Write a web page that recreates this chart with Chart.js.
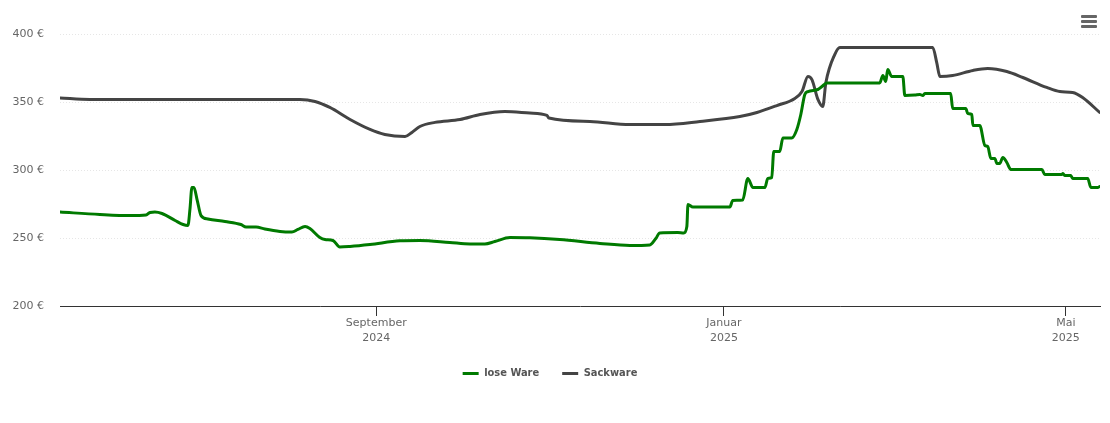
<!DOCTYPE html>
<html>
<head>
<meta charset="utf-8">
<script src="https://cdn.jsdelivr.net/npm/chart.js@4"></script>
<style>
    body { margin: 0; background: #fff; }
    #wrap { position: relative; width: 1110px; height: 423px; }
    #menu { position: absolute; left: 1081px; top: 15px; width: 16px; }
    #menu div { height: 3px; background: #666; margin-bottom: 2px; border-radius: 1px; }
</style>
</head>
<body>
<div id="wrap">
    <canvas id="chart" width="1110" height="423"></canvas>
    <div id="menu"><div></div><div></div><div></div></div>
</div>
<script>
// x values are days since 13 May 2024
var loseDays = [0, 14, 24.6, 30.2, 31.6, 33.3, 35.8, 40.4, 43.2, 44.9, 45.6, 46.3, 47, 48.1, 49.5, 51.9, 57.9, 63.5, 65.3, 68.8, 71.9, 77.2, 81.4, 83.5, 86, 87.7, 91.2, 93, 95.8, 98.2, 101.8, 108.8, 119.3, 126.3, 136.8, 143.9, 149.1, 152.6, 157.9, 164.9, 175.4, 189.5, 200, 207, 209.1, 210.5, 216.8, 218.9, 220, 220.4, 222.1, 235.1, 236.1, 239.6, 241.4, 243.2, 247.4, 248.4, 249.8, 250.5, 252.6, 253.7, 256.8, 258.6, 260, 261.4, 262.5, 266, 267.4, 269.1, 287.7, 288.8, 289.8, 290.5, 291.9, 295.8, 296.5, 300, 301.8, 302.8, 303.5, 312.6, 313.3, 317.9, 318.6, 320, 320.4, 322.8, 324.6, 325.6, 326.7, 328.1, 328.8, 329.8, 330.9, 332.3, 333.7, 344.6, 345.6, 351.6, 352, 352.6, 354.7, 355.4, 360.7, 361.8, 364.2, 364.9];
var loseWare = [269.1, 267.3, 266.5, 266.9, 268.8, 269.1, 268, 262.9, 259.9, 259.2, 271, 287.1, 287.1, 278.3, 266.5, 264, 262.1, 259.9, 258.1, 258.1, 256.6, 254.8, 254.4, 256.3, 258.5, 257, 250.4, 248.9, 248.2, 243.4, 243.8, 245.2, 247.9, 248.2, 246.7, 245.6, 245.6, 247.4, 250.4, 250.2, 248.9, 246, 244.5, 244.9, 249.6, 253.7, 254, 253.7, 258.5, 274.6, 272.8, 272.8, 277.6, 277.9, 293.8, 287.1, 287.1, 293.8, 294.5, 313.6, 313.6, 323.5, 323.5, 329.8, 340.8, 355.5, 357.7, 359.2, 361.4, 364, 364, 369.5, 365.1, 373.9, 368.8, 368.8, 354.8, 355.1, 355.5, 354.8, 356.2, 356.2, 345.2, 345.2, 341.5, 340.8, 332.7, 332.7, 318, 317.3, 308.5, 308.5, 304.8, 304.8, 309.2, 305.5, 300.4, 300.4, 296.7, 296.7, 297.4, 296, 296, 293.8, 293.8, 287.1, 287.1, 287.9];

var sackDays = [0, 10.5, 84.2, 89.5, 94.7, 101.8, 108.8, 114, 121.1, 123.5, 126.3, 131.6, 140.4, 147.4, 156.1, 164.9, 170.9, 171.6, 186, 200, 212.3, 224.6, 238.6, 244.6, 251.6, 257.9, 260.4, 262.5, 263.9, 266, 267.7, 268.8, 271.9, 273.7, 306.3, 307.7, 308.8, 313.3, 320.4, 325.6, 332.3, 337.9, 346.3, 350.9, 355.4, 358.9, 364.9];
var sackware = [353, 351.9, 351.9, 350.4, 346, 337.1, 329.8, 326.1, 324.6, 327.6, 332, 335, 337.1, 340.8, 343, 341.9, 340.1, 338.2, 335.7, 333.5, 333.5, 335.7, 339.3, 342.3, 347.4, 352.6, 357.7, 368.8, 366.5, 351.9, 346.7, 364.3, 384.9, 390.1, 390.1, 379, 368.8, 369.5, 373.2, 374.6, 372.4, 368, 360.7, 357.7, 357, 353.3, 342.3];

var tickDays = [111, 233, 353];
var tickMonths = ["September", "Januar", "Mai"];
var tickYears = ["2024", "2025", "2025"];

function toPoints(days, values) {
    return days.map(function (d, i) {
        return { x: d, y: values[i] };
    });
}

var ctx = document.getElementById("chart");

var data = {
    datasets: [
        {
            label: "lose Ware",
            data: toPoints(loseDays, loseWare),
            borderColor: "#007a00",
            backgroundColor: "#007a00",
            borderWidth: 3,
            borderCapStyle: "round",
            borderJoinStyle: "round",
            pointRadius: 0,
            fill: false,
            cubicInterpolationMode: "monotone"
        },
        {
            label: "Sackware",
            data: toPoints(sackDays, sackware),
            borderColor: "#444444",
            backgroundColor: "#444444",
            borderWidth: 3,
            borderCapStyle: "round",
            borderJoinStyle: "round",
            pointRadius: 0,
            fill: false,
            cubicInterpolationMode: "monotone"
        }
    ]
};

var options = {
    responsive: false,
    animation: false,
    layout: { padding: { left: 0, right: 10, top: 34, bottom: 34 } },
    plugins: {
        tooltip: { enabled: false },
        legend: {
            display: true,
            position: "bottom",
            labels: {
                usePointStyle: true,
                pointStyle: "line",
                pointStyleWidth: 16,
                padding: 23,
                color: "#555",
                font: { family: "DejaVu Sans Condensed", size: 11, weight: "bold" }
            }
        }
    },
    scales: {
        x: {
            type: "linear",
            min: 0,
            max: 365,
            afterBuildTicks: function (scale) {
                scale.ticks = tickDays.map(function (d) { return { value: d }; });
            },
            afterFit: function (scale) { scale.height = 39; },
            grid: { drawOnChartArea: false, drawTicks: true, tickLength: 10, color: "#333" },
            border: { display: true, color: "#333", width: 1 },
            ticks: {
                autoSkip: false,
                maxRotation: 0,
                padding: 0,
                color: "#666",
                font: { family: "DejaVu Sans", size: 11, lineHeight: 1.35 },
                callback: function (value) {
                    var i = tickDays.indexOf(value);
                    return [tickMonths[i], tickYears[i]];
                }
            }
        },
        y: {
            min: 200,
            max: 400,
            afterFit: function (scale) { scale.width = 60; },
            grid: { drawTicks: false, color: "#e6e6e6" },
            border: { display: false, dash: [1, 2] },
            ticks: {
                stepSize: 50,
                padding: 16,
                color: "#666",
                font: { family: "DejaVu Sans", size: 11 },
                callback: function (value) { return value + " €"; }
            }
        }
    }
};

var chart = new Chart(ctx, {
    type: "line",
    data: data,
    options: options
});
</script>
</body>
</html>
